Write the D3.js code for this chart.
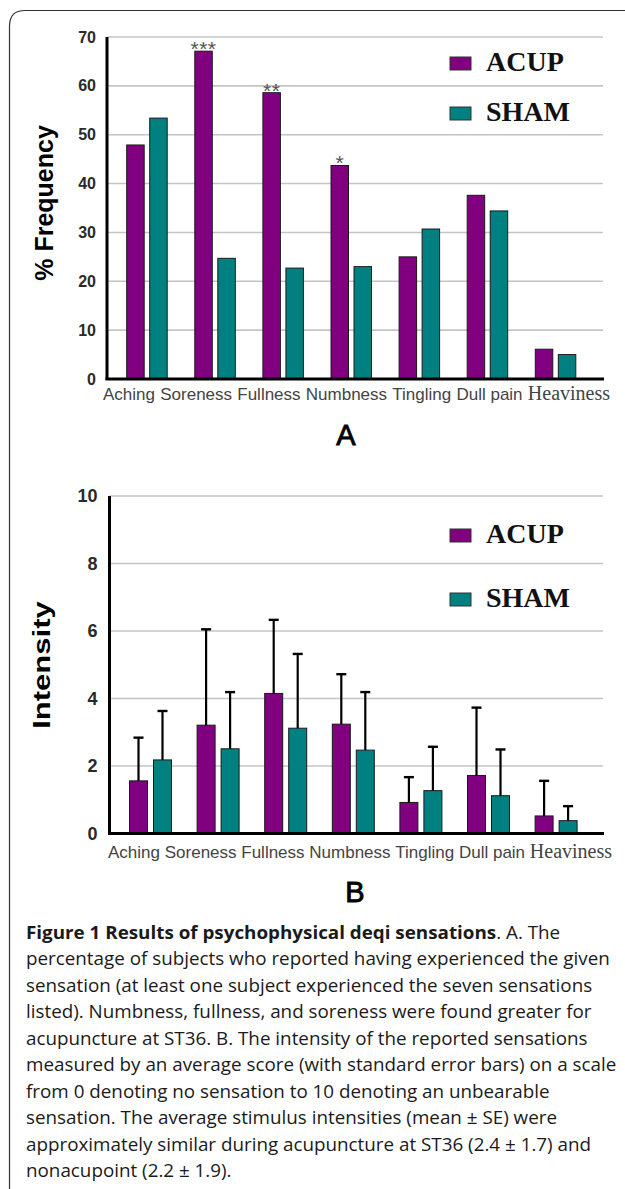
<!DOCTYPE html>
<html>
<head>
<meta charset="utf-8">
<script src="https://cdn.jsdelivr.net/npm/d3@7"></script>
<style>
  body { margin: 0; background: #fff; }
  svg { display: block; }
</style>
</head>
<body>
<div id="fig"></div>
<script>
// data
var categories = ["Aching", "Soreness", "Fullness", "Numbness", "Tingling", "Dull pain", "Heaviness"];
var series = ["ACUP", "SHAM"];
var colors = ["#800080", "#008080"];

// panel A: % frequency
var freqAcup = [47.9, 67.1, 58.6, 43.7, 25.0, 37.6, 6.1];
var freqSham = [53.4, 24.7, 22.7, 23.0, 30.7, 34.4, 5.0];
var freqStars = ["", "***", "**", "*", "", "", ""];
var freqTicks = [0, 10, 20, 30, 40, 50, 60, 70];

// panel B: intensity (mean + standard error)
var intAcup = [1.56, 3.21, 4.15, 3.24, 0.92, 1.72, 0.52];
var intSham = [2.18, 2.51, 3.12, 2.47, 1.27, 1.12, 0.38];
var seAcup = [1.28, 2.84, 2.18, 1.48, 0.75, 2.01, 1.04];
var seSham = [1.45, 1.68, 2.20, 1.72, 1.30, 1.37, 0.43];
var intTicks = [0, 2, 4, 6, 8, 10];

var captionLines = [
  "percentage of subjects who reported having experienced the given",
  "sensation (at least one subject experienced the seven sensations",
  "listed). Numbness, fullness, and soreness were found greater for",
  "acupuncture at ST36. B. The intensity of the reported sensations",
  "measured by an average score (with standard error bars) on a scale",
  "from 0 denoting no sensation to 10 denoting an unbearable",
  "sensation. The average stimulus intensities (mean \u00b1 SE) were",
  "approximately similar during acupuncture at ST36 (2.4 \u00b1 1.7) and",
  "nonacupoint (2.2 \u00b1 1.9)."
];

var svg = d3.select("#fig").append("svg")
  .attr("width", 625)
  .attr("height", 1189);

// frame around the figure
svg.append("path")
  .attr("d", "M9.5,1189 L9.5,26 Q9.5,10.5 25,10.5 L625,10.5")
  .attr("fill", "none")
  .attr("stroke", "#333")
  .attr("stroke-width", 1.2);

function drawPanel(cfg) {
  var g = svg.append("g");

  var y = d3.scaleLinear().domain(cfg.domain).range([cfg.y0, cfg.yTop]);
  var x0 = d3.scaleBand().domain(categories).range(cfg.bandRange);
  var x1 = d3.scaleBand().domain(series).range([0, cfg.groupW]).paddingInner(cfg.pad);
  var off = (x0.bandwidth() - cfg.groupW) / 2;
  var color = d3.scaleOrdinal().domain(series).range(colors);

  // gridlines
  g.append("g").selectAll("line")
    .data(cfg.ticks.filter(function (d) { return d > 0; }))
    .join("line")
    .attr("x1", cfg.axisX).attr("x2", 603)
    .attr("y1", function (d) { return y(d); })
    .attr("y2", function (d) { return y(d); })
    .attr("stroke", "#c4c4c4")
    .attr("stroke-width", 1.6);

  // y tick labels
  var ya = g.append("g")
    .attr("transform", "translate(" + cfg.axisX + ",0)")
    .call(d3.axisLeft(y).tickValues(cfg.ticks).tickSize(0).tickPadding(cfg.tickPad));
  ya.select(".domain").remove();
  ya.selectAll("text")
    .style("font-family", "Liberation Sans, Arial, sans-serif")
    .style("font-size", cfg.tickFont + "px")
    .style("font-weight", "bold")
    .attr("fill", "#2a2a2a");

  // bars
  var rows = [];
  categories.forEach(function (c, i) {
    series.forEach(function (s, j) {
      rows.push({ cat: c, ser: s, v: cfg.values[j][i], e: cfg.errors ? cfg.errors[j][i] : null });
    });
  });

  g.append("g").selectAll("rect")
    .data(rows)
    .join("rect")
    .attr("x", function (d) { return x0(d.cat) + off + x1(d.ser); })
    .attr("width", x1.bandwidth())
    .attr("y", function (d) { return y(d.v); })
    .attr("height", function (d) { return cfg.y0 - y(d.v); })
    .attr("fill", function (d) { return color(d.ser); })
    .attr("stroke", "#1a1a1a")
    .attr("stroke-width", 1);

  // error bars
  if (cfg.errors) {
    var eg = g.append("g").selectAll("g")
      .data(rows)
      .join("g")
      .attr("transform", function (d) {
        return "translate(" + (x0(d.cat) + off + x1(d.ser) + x1.bandwidth() / 2) + ",0)";
      });
    eg.append("line")
      .attr("x1", 0).attr("x2", 0)
      .attr("y1", function (d) { return y(d.v); })
      .attr("y2", function (d) { return y(d.v + d.e); })
      .attr("stroke", "#000").attr("stroke-width", 2.2);
    eg.append("line")
      .attr("x1", -5).attr("x2", 5)
      .attr("y1", function (d) { return y(d.v + d.e); })
      .attr("y2", function (d) { return y(d.v + d.e); })
      .attr("stroke", "#000").attr("stroke-width", 2.4);
  }

  // significance stars
  if (cfg.stars) {
    g.append("g").selectAll("text")
      .data(categories)
      .join("text")
      .attr("x", function (c) { return x0(c) + off + x1("ACUP") + x1.bandwidth() / 2; })
      .attr("y", function (c, i) { return y(cfg.values[0][i]) + 5; })
      .attr("text-anchor", "middle")
      .style("font-family", "Liberation Sans, Arial, sans-serif")
      .style("font-size", "21px")
      .style("letter-spacing", "0.5px")
      .attr("fill", "#555")
      .text(function (c, i) { return cfg.stars[i]; });
  }

  // axis lines
  g.append("line")
    .attr("x1", cfg.axisX).attr("x2", cfg.axisX)
    .attr("y1", cfg.yTop).attr("y2", cfg.y0 + 1)
    .attr("stroke", "#000").attr("stroke-width", 3);
  g.append("line")
    .attr("x1", cfg.axisX - 1.5).attr("x2", 604)
    .attr("y1", cfg.y0).attr("y2", cfg.y0)
    .attr("stroke", "#000").attr("stroke-width", 3);

  // category labels: typed as one run of words under the axis
  var lab = d3.scalePoint().domain(categories).range(cfg.labelRange);
  var xa = g.append("g")
    .attr("transform", "translate(0," + cfg.y0 + ")")
    .call(d3.axisBottom(lab).tickSize(0));
  xa.select(".domain").remove();
  var texts = xa.selectAll("text")
    .attr("y", cfg.labelDy)
    .attr("dy", 0)
    .attr("fill", "#444")
    .style("font-family", function (d) {
      return d === "Heaviness" ? "Liberation Serif, Times New Roman, serif" : "Liberation Sans, Arial, sans-serif";
    })
    .style("font-size", function (d) { return d === "Heaviness" ? "20px" : "17px"; });
  var widths = texts.nodes().map(function (n) { return n.getComputedTextLength(); });
  var total = d3.sum(widths);
  var gap = (cfg.labelSpan[1] - cfg.labelSpan[0] - total) / (categories.length - 1);
  var cursor = cfg.labelSpan[0];
  var centres = widths.map(function (w) { var c = cursor + w / 2; cursor += w + gap; return c; });
  xa.selectAll(".tick").attr("transform", function (d, i) { return "translate(" + centres[i] + ",0)"; });

  // y title
  g.append("text")
    .attr("transform", "translate(" + cfg.titleX + "," + cfg.titleY + ") rotate(-90) scale(" + cfg.titleStretch + ",1)")
    .attr("text-anchor", "middle")
    .style("font-family", "Liberation Sans, Arial, sans-serif")
    .style("font-weight", "bold")
    .style("font-size", cfg.titleFont + "px")
    .attr("fill", "#000")
    .text(cfg.title);

  // legend
  var lg = g.append("g").selectAll("g")
    .data(series)
    .join("g")
    .attr("transform", function (d, i) { return "translate(450," + cfg.legendY[i] + ")"; });
  lg.append("rect")
    .attr("x", 0).attr("y", -14)
    .attr("width", 21).attr("height", 13)
    .attr("fill", function (d) { return color(d); })
    .attr("stroke", "#333").attr("stroke-width", 1);
  lg.append("text")
    .attr("x", 36).attr("y", 0)
    .style("font-family", "Liberation Serif, Times New Roman, serif")
    .style("font-weight", "bold")
    .style("font-size", "28px")
    .attr("fill", "#111")
    .text(function (d) { return d; });

  // panel letter
  g.append("text")
    .attr("x", cfg.letterX).attr("y", cfg.letterY)
    .attr("text-anchor", "middle")
    .style("font-family", "Liberation Sans, Arial, sans-serif")
    .style("font-size", "29px")
    .attr("fill", "#000")
    .attr("stroke", "#000")
    .attr("stroke-width", 0.9)
    .text(cfg.letter);
}

drawPanel({
  domain: [0, 70], ticks: freqTicks, y0: 379, yTop: 37,
  axisX: 107, bandRange: [112.9, 589.6], groupW: 40.5, pad: 0.24,
  values: [freqAcup, freqSham], errors: null, stars: freqStars,
  tickPad: 11, tickFont: 16,
  labelRange: [129, 568], labelSpan: [103, 610], labelDy: 21,
  title: "% Frequency", titleX: 53, titleY: 203, titleFont: 25, titleStretch: 1,
  legendY: [71, 121],
  letter: "A", letterX: 346, letterY: 445
});

drawPanel({
  domain: [0, 10], ticks: intTicks, y0: 833.5, yTop: 496,
  axisX: 109.5, bandRange: [116.7, 589.9], groupW: 42, pad: 0.25,
  values: [intAcup, intSham], errors: [seAcup, seSham], stars: null,
  tickPad: 12, tickFont: 18,
  labelRange: [134, 570], labelSpan: [108, 612], labelDy: 24.5,
  title: "Intensity", titleX: 50, titleY: 665, titleFont: 23, titleStretch: 1.35,
  legendY: [543, 607],
  letter: "B", letterX: 355, letterY: 902
});

// caption
var cap = svg.append("g")
  .style("font-family", "Open Sans, Noto Sans, sans-serif")
  .style("font-size", "18px")
  .attr("fill", "#1a1a1a");

var first = cap.append("text").attr("x", 0).attr("y", 939);
first.append("tspan").style("font-weight", "bold").text("Figure 1 Results of psychophysical deqi sensations");
first.append("tspan").text(". A. The");

cap.selectAll("text.line")
  .data(captionLines)
  .join("text")
  .attr("class", "line")
  .attr("x", 0)
  .attr("y", function (d, i) { return 939 + (i + 1) * 26.45; })
  .text(function (d) { return d; });

var ref = cap.selectAll("text.line").nodes()[0].getComputedTextLength();
var k = 584 / ref;
cap.attr("transform", "translate(26,0) scale(" + k + ",1)");
</script>
</body>
</html>
